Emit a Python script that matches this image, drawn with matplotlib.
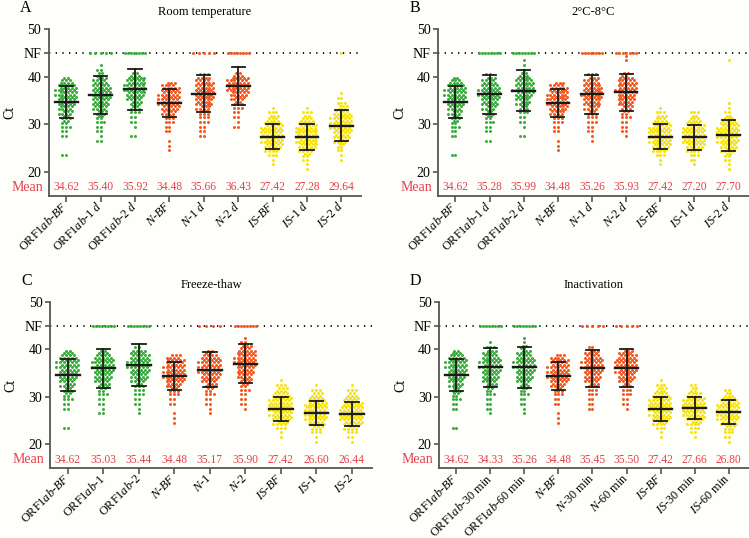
import numpy as np
import matplotlib
matplotlib.use('Agg')
import matplotlib.pyplot as plt

plt.rcParams['font.family'] = ['Liberation Serif', 'DejaVu Serif']
plt.rcParams['mathtext.fontset'] = 'custom'
plt.rcParams['mathtext.rm'] = 'Liberation Serif'
plt.rcParams['mathtext.it'] = 'Liberation Serif:italic'

#--- data: counts of samples per 1-Ct bin (lower edge 20 ... 44)
bin_lo = np.arange(20, 45)

orf_bf   = [0,0,0,2,0,0,0,2,2,3,4,5,7,8,9,10,11,11,9,5,0,0,0,0,0]
n_bf     = [0,0,0,0,1,1,1,0,2,2,3,5,8,10,11,11,11,10,7,0,0,0,0,0,0]
is_bf    = [0,1,1,3,7,10,11,12,12,11,9,6,3,1,0,0,0,0,0,0,0,0,0,0,0]

orf_1d_a = [0,0,0,0,0,0,2,1,2,2,3,4,6,8,9,10,10,10,9,7,4,2,1,0,0]
orf_2d_a = [0,0,0,0,0,0,0,2,0,1,2,2,3,5,6,8,10,11,11,10,5,0,0,0,0]
n_1d_a   = [0,0,0,0,0,0,0,2,2,2,3,3,5,7,9,10,10,10,10,8,3,0,0,0,0]
n_2d_a   = [0,0,0,0,0,0,0,0,0,2,1,2,2,3,5,7,10,12,12,11,5,0,0,0,0]
is_1d_a  = [1,1,2,4,7,10,11,12,12,11,8,5,3,1,0,0,0,0,0,0,0,0,0,0,0]
is_2d_a  = [0,0,1,1,2,4,7,9,10,11,11,11,9,6,3,2,1,0,0,0,0,0,0,0,0]

orf_1d_b = [0,0,0,0,0,0,2,0,2,2,3,4,5,7,9,10,11,11,9,7,2,0,0,0,0]
orf_2d_b = [0,0,0,0,0,0,0,2,0,1,2,2,3,5,7,8,10,11,10,9,5,1,1,1,0]
n_1d_b   = [0,0,0,0,0,0,1,1,2,2,3,3,5,7,9,10,11,10,9,7,3,0,0,0,0]
n_2d_b   = [0,0,0,0,0,0,0,1,2,2,2,3,4,6,8,9,10,11,10,9,4,0,0,1,1]
is_1d_b  = [0,1,2,3,7,10,12,12,12,11,8,5,3,0,0,0,0,0,0,0,0,0,0,0,0]
is_2d_b  = [1,1,2,4,7,9,11,12,12,11,9,5,2,1,1,0,0,0,0,0,0,0,0,1,0]

orf_1_c  = [0,0,0,0,0,0,2,1,2,2,3,4,6,8,9,10,11,11,9,5,0,0,0,0,0]
orf_2_c  = [0,0,0,0,0,0,1,1,2,2,3,3,5,7,9,10,11,11,10,8,2,0,0,0,0]
n_1_c    = [0,0,0,0,0,0,1,1,2,2,3,4,6,8,10,11,11,11,9,4,0,0,0,0,0]
n_2_c    = [0,0,0,0,0,0,0,1,2,2,2,3,4,6,8,9,10,11,11,10,6,2,1,0,0]
is_1_c   = [1,1,3,6,9,11,12,12,11,9,6,3,1,0,0,0,0,0,0,0,0,0,0,0,0]
is_2_c   = [1,2,3,7,10,12,12,12,10,8,5,3,1,0,0,0,0,0,0,0,0,0,0,0,0]

orf_30_d = [0,0,0,0,0,0,1,2,2,2,3,4,6,8,9,10,11,11,9,7,3,1,0,0,0]
orf_60_d = [0,0,0,0,0,0,1,1,2,2,3,4,5,8,9,10,11,11,9,7,4,1,1,0,0]
n_30_d   = [0,0,0,0,0,0,0,2,2,2,3,3,6,8,9,10,11,11,9,7,2,0,0,0,0]
n_60_d   = [0,0,0,0,0,0,0,1,2,2,3,3,5,8,9,11,12,12,10,7,0,0,0,0,0]
is_30_d  = [0,1,2,3,7,10,12,12,12,11,8,4,2,0,0,0,0,0,0,0,0,0,0,0,0]
is_60_d  = [1,2,3,6,9,11,12,12,11,9,5,2,0,0,0,0,0,0,0,0,0,0,0,0,0]

# number of "not found" samples (plotted on the NF line)
nf_a = [0, 5, 8, 0, 5, 8, 0, 0, 1]
nf_b = [0, 8, 8, 0, 8, 7, 0, 0, 0]
nf_c = [0, 8, 8, 0, 4, 8, 0, 0, 0]
nf_d = [0, 8, 8, 0, 5, 5, 0, 0, 0]

# mean line and SD bar as drawn
centre_a = [34.65, 36.1, 37.4, 34.45, 36.4, 38.0, 27.4, 27.25, 29.7]
sd_a     = [3.4, 4.05, 4.35, 2.95, 3.9, 4.05, 2.55, 2.7, 3.2]
centre_b = [34.65, 36.3, 37.1, 34.45, 36.3, 36.7, 27.4, 27.2, 27.65]
sd_b     = [3.4, 4.15, 4.25, 2.95, 4.1, 3.95, 2.55, 2.55, 3.25]
centre_c = [34.65, 36.0, 36.7, 34.45, 35.7, 37.0, 27.4, 26.6, 26.4]
sd_c     = [3.4, 4.15, 4.35, 2.95, 3.7, 4.2, 2.55, 2.55, 2.5]
centre_d = [34.65, 36.2, 36.25, 34.45, 36.0, 36.1, 27.4, 27.6, 26.8]
sd_d     = [3.4, 4.2, 4.35, 2.95, 3.9, 3.95, 2.55, 2.4, 2.5]

# printed means
mean_a = [34.62, 35.40, 35.92, 34.48, 35.66, 36.43, 27.42, 27.28, 29.64]
mean_b = [34.62, 35.28, 35.99, 34.48, 35.26, 35.93, 27.42, 27.20, 27.70]
mean_c = [34.62, 35.03, 35.44, 34.48, 35.17, 35.90, 27.42, 26.60, 26.44]
mean_d = [34.62, 34.33, 35.26, 34.48, 35.45, 35.50, 27.42, 27.66, 26.80]

labels_a = ['ORF1$ab$-$BF$', 'ORF1$ab$-1 $d$', 'ORF1$ab$-2 $d$', '$N$-$BF$', '$N$-1 $d$',
            '$N$-2 $d$', '$IS$-$BF$', '$IS$-1 $d$', '$IS$-2 $d$']
labels_c = ['ORF1$ab$-$BF$', 'ORF1$ab$-1', 'ORF1$ab$-2', '$N$-$BF$', '$N$-1', '$N$-2',
            '$IS$-$BF$', '$IS$-1', '$IS$-2']
labels_d = ['ORF1$ab$-$BF$', 'ORF1$ab$-30 min', 'ORF1$ab$-60 min', '$N$-$BF$', '$N$-30 min',
            '$N$-60 min', '$IS$-$BF$', '$IS$-30 min', '$IS$-60 min']

titles  = ['Room temperature', '2°C-8°C', 'Freeze-thaw', 'Inactivation']
letters = ['A', 'B', 'C', 'D']

green, orange, yellow = '#38ab3c', '#f2571f', '#f6e30c'
colours = [green]*3 + [orange]*3 + [yellow]*3
red_txt = '#e5404c'
bg = '#fefefa'

panels = [
    ([orf_bf, orf_1d_a, orf_2d_a, n_bf, n_1d_a, n_2d_a, is_bf, is_1d_a, is_2d_a],
     nf_a, centre_a, sd_a, mean_a, labels_a),
    ([orf_bf, orf_1d_b, orf_2d_b, n_bf, n_1d_b, n_2d_b, is_bf, is_1d_b, is_2d_b],
     nf_b, centre_b, sd_b, mean_b, labels_a),
    ([orf_bf, orf_1_c, orf_2_c, n_bf, n_1_c, n_2_c, is_bf, is_1_c, is_2_c],
     nf_c, centre_c, sd_c, mean_c, labels_c),
    ([orf_bf, orf_30_d, orf_60_d, n_bf, n_30_d, n_60_d, is_bf, is_30_d, is_60_d],
     nf_d, centre_d, sd_d, mean_d, labels_d),
]

positions = [[0.0654, 0.6362, 0.4166, 0.309],
             [0.5852, 0.6362, 0.4135, 0.309],
             [0.0668, 0.1296, 0.4300, 0.309],
             [0.5865, 0.1296, 0.4122, 0.309]]

dx = 0.11  # horizontal spacing of the swarm dots


def row_offsets(m, half):
    # positions on an integer grid (half=False) or half-integer grid (half=True)
    k = np.arange(m) - (m - 1)/2
    if (m % 2 == 0) != half:
        k = k + (0.5 if half else -0.5)
    return k*dx


def swarm(ax, x0, counts, colour):
    xs, ys = [], []
    for b, n in zip(bin_lo, counts):
        if n == 0:
            continue
        if n <= 3:
            rows = [(b + 0.5, n, False)]
        else:
            na = (n + 1)//2
            rows = [(b + 0.25, na, False), (b + 0.75, n - na, True)]
        for y, m, half in rows:
            for off in row_offsets(m, half):
                xs.append(x0 + off)
                ys.append(y)
    ax.scatter(xs, ys, s=4.6, c=colour, linewidths=0, zorder=3)


fig = plt.figure(figsize=(7.49, 5.38), dpi=100, facecolor=bg)

for p, (counts, nf, centre, sd, means, labels) in enumerate(panels):
    ax = fig.add_axes(positions[p])
    ax.set_facecolor(bg)
    x = np.arange(len(counts))

    ax.axhline(45, color='black', lw=1.3, ls=(0, (0.7, 3.0)), zorder=2)

    for i in range(len(counts)):
        swarm(ax, x[i], counts[i], colours[i])
        if nf[i] > 0:
            nx = x[i] + (np.linspace(-0.3, 0.3, nf[i]) if nf[i] > 1 else np.zeros(1))
            ax.scatter(nx, np.full(nf[i], 45.0), s=4.6, c=colours[i], linewidths=0, zorder=3)
        # mean +- SD
        m, s = centre[i], sd[i]
        ax.plot([x[i], x[i]], [m - s, m + s], color='#1a1a1a', lw=1.3, zorder=4)
        ax.plot([x[i] - 0.19, x[i] + 0.19], [m + s, m + s], color='#1a1a1a', lw=1.3, zorder=4)
        ax.plot([x[i] - 0.19, x[i] + 0.19], [m - s, m - s], color='#1a1a1a', lw=1.3, zorder=4)
        ax.plot([x[i] - 0.33, x[i] + 0.33], [m, m], color='#1a1a1a', lw=1.7, zorder=4)
        ax.text(x[i], 16.7, '%.2f' % means[i], color=red_txt, fontsize=8.3,
                ha='center', va='center')

    ax.annotate('Mean', xy=(0, 16.7), xycoords=('axes fraction', 'data'), xytext=(-4, 0),
                textcoords='offset points', ha='right', va='center', color=red_txt, fontsize=10)
    ax.annotate('Ct', xy=(0, 0.5), xycoords='axes fraction', xytext=(-28, 0),
                textcoords='offset points', ha='center', va='center', rotation=90, fontsize=10)
    ax.annotate(titles[p], xy=(0.5, 1), xycoords='axes fraction', xytext=(0, 12.5),
                textcoords='offset points', ha='center', va='center', fontsize=9)
    ax.annotate(letters[p], xy=(0, 1), xycoords='axes fraction', xytext=(-17, 15.5),
                textcoords='offset points', ha='center', va='center', fontsize=11.5)

    ax.set_xlim(-0.5, 8.57)
    ax.set_ylim(14.9, 50)
    ax.set_yticks([20, 30, 40, 45, 50])
    ax.set_yticklabels(['20', '30', '40', 'NF', '50'])
    ax.set_xticks(x)
    ax.set_xticklabels(labels, rotation=45, ha='right', va='center', rotation_mode='anchor',
                       fontsize=8.8)
    ax.tick_params(axis='y', direction='out', length=3.5, width=1.2, color='#555555',
                   labelsize=10, pad=2)
    ax.tick_params(axis='x', direction='out', length=4, width=1.2, color='#555555', pad=2)
    for side in ['top', 'right']:
        ax.spines[side].set_visible(False)
    for side in ['left', 'bottom']:
        ax.spines[side].set_color('#555555')
        ax.spines[side].set_linewidth(1.3)

fig.savefig('out.png', dpi=100, facecolor=bg)
